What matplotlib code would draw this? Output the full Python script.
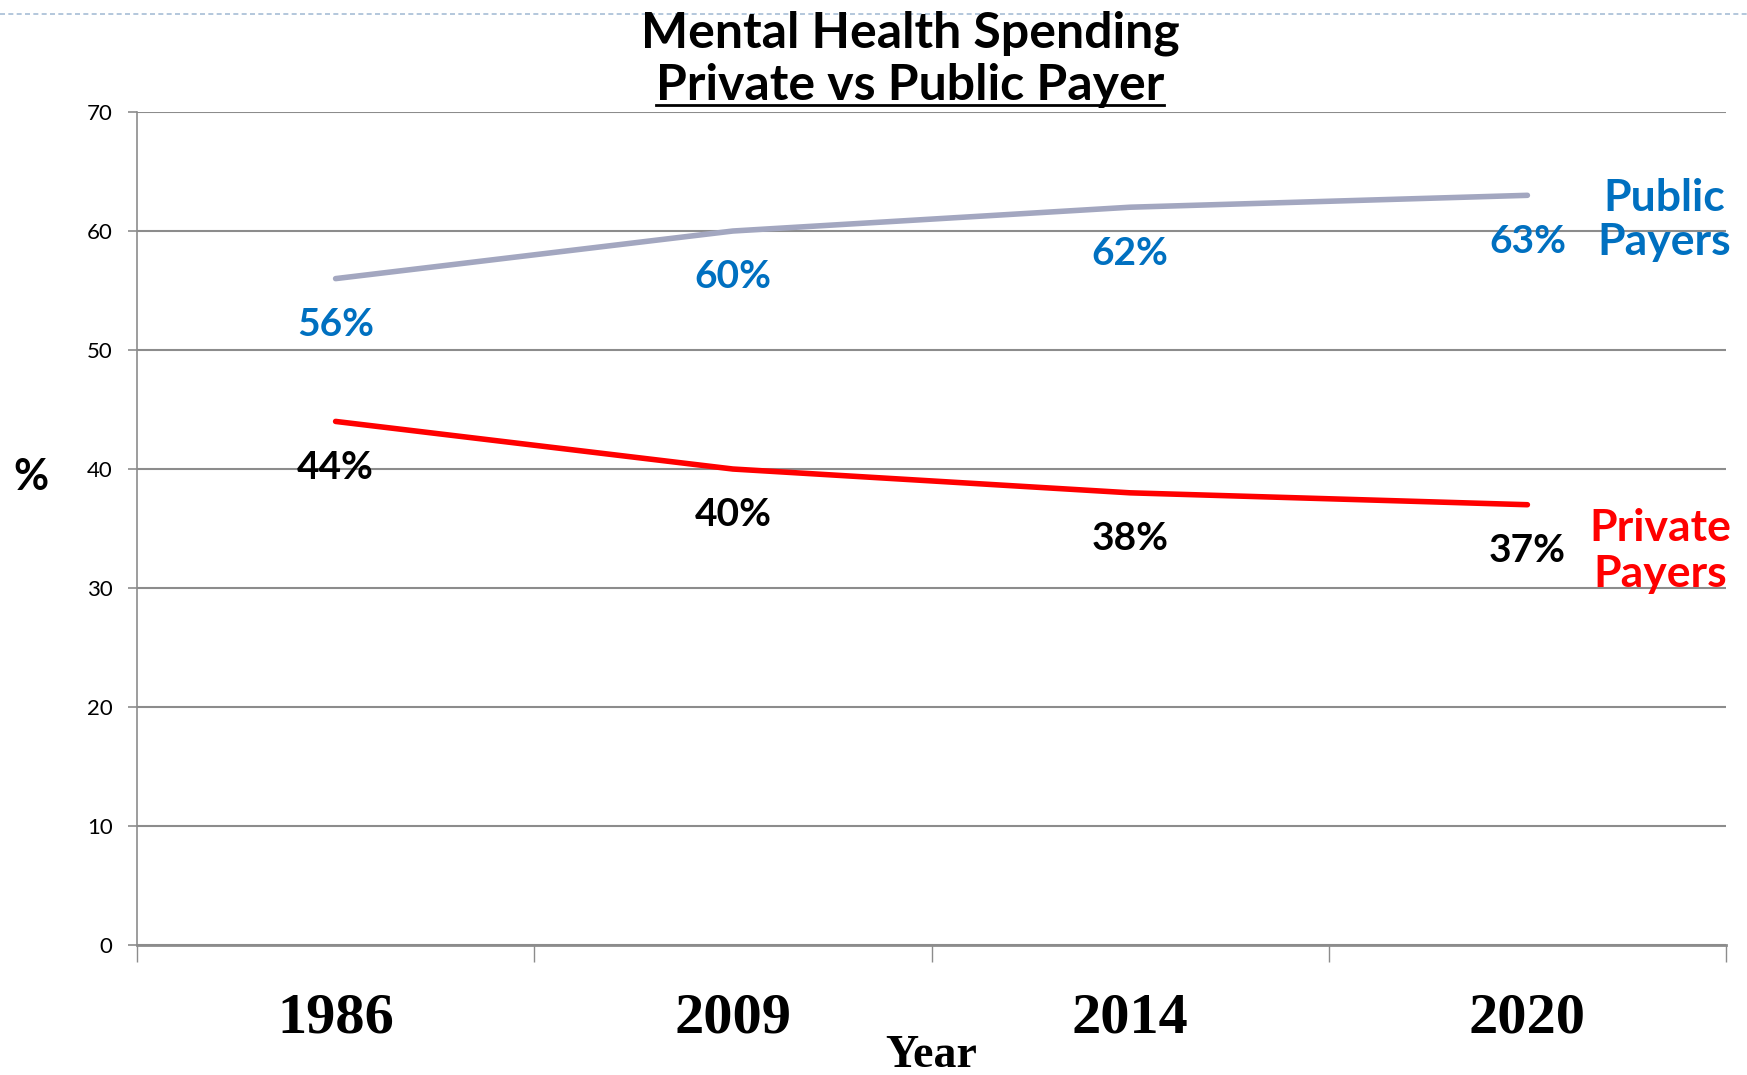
import matplotlib
matplotlib.use("Agg")
import matplotlib.pyplot as plt
from matplotlib.lines import Line2D
from matplotlib.ticker import FixedLocator
import numpy as np

years = ['1986', '2009', '2014', '2020']
public = [56, 60, 62, 63]
private = [44, 40, 38, 37]

SANS = 'Lato'
SERIF = 'Liberation Serif'
GRID = '#8c8c8c'
BLUE = '#0070C0'

fig = plt.figure(figsize=(17.47, 10.75), dpi=100)
ax = fig.add_axes([0.0784, 0.1209, 0.9096, 0.7749])

x = np.arange(len(years))

ax.plot(x, public, color='#A3A7C0', lw=4, solid_capstyle='round', zorder=3)
ax.plot(x, private, color='#FF0000', lw=4, solid_capstyle='round', zorder=3)

# value labels under the points
for xi, v in zip(x, public):
    ax.annotate('{}%'.format(v), (xi, v), xytext=(0, -33), textcoords='offset points',
                ha='center', va='center', fontsize=28, fontweight='bold',
                color=BLUE, family=SANS, zorder=4)
for xi, v in zip(x, private):
    ax.annotate('{}%'.format(v), (xi, v), xytext=(0, -33), textcoords='offset points',
                ha='center', va='center', fontsize=28, fontweight='bold',
                color='black', family=SANS, zorder=4)

# series names on the right
ax.text(1664 / 1747, 1 - 220 / 1075, 'Public\nPayers', transform=fig.transFigure,
        ha='center', va='center', fontsize=32, fontweight='bold', color=BLUE,
        family=SANS, linespacing=1.13)
ax.text(1660 / 1747, 1 - 551 / 1075, 'Private\nPayers', transform=fig.transFigure,
        ha='center', va='center', fontsize=32, fontweight='bold', color='#FF0000',
        family=SANS, linespacing=1.18)

ax.set_xlim(-0.5, len(years) - 0.5)
ax.set_ylim(0, 70)
ax.set_yticks(range(0, 71, 10))
ax.yaxis.grid(True, color=GRID, lw=1.5)
ax.set_axisbelow(True)

ax.set_xticks(x)
ax.set_xticklabels(years, fontsize=42, fontweight='bold', family=SERIF)
ax.xaxis.set_minor_locator(FixedLocator(np.arange(-0.5, len(years), 1.0)))
ax.tick_params(axis='x', which='major', length=0, pad=34)
ax.tick_params(axis='x', which='minor', length=12, width=1, color=GRID)
ax.tick_params(axis='y', length=6.5, width=1.2, color=GRID, pad=11, labelsize=16)
for lab in ax.get_yticklabels():
    lab.set_family(SANS)

for s in ['top', 'right']:
    ax.spines[s].set_visible(False)
ax.spines['left'].set_color(GRID)
ax.spines['left'].set_linewidth(1.2)
ax.spines['bottom'].set_color(GRID)
ax.spines['bottom'].set_linewidth(2)

ax.set_xlabel('Year', fontsize=33, fontweight='bold', family=SERIF)
ax.xaxis.set_label_coords(0.5, -0.133)
ax.xaxis.label.set_va('center')
ax.set_ylabel('%', fontsize=31, fontweight='bold', family=SANS, rotation=0)
ax.yaxis.set_label_coords(-0.0667, 0.562)
ax.yaxis.label.set_va('center')
ax.yaxis.label.set_ha('center')

# title, second line underlined
tx = 910 / 1747
fig.text(tx, 1 - 33 / 1075, 'Mental Health Spending', ha='center', va='center',
         fontsize=36, fontweight='bold', family=SANS)
t2 = fig.text(tx, 1 - 86 / 1075, 'Private vs Public Payer', ha='center', va='center',
              fontsize=36, fontweight='bold', family=SANS)
fig.canvas.draw()
bb = t2.get_window_extent().transformed(fig.transFigure.inverted())
fig.add_artist(Line2D([bb.x0, bb.x1], [1 - 105 / 1075] * 2, color='black', lw=2,
                      transform=fig.transFigure))

# dashed rule across the top of the slide
fig.add_artist(Line2D([0, 1], [1 - 14 / 1075] * 2, color='#A7BED6', lw=1.2,
                      ls=(0, (3, 2)), transform=fig.transFigure))

fig.savefig('out.png', dpi=100)
